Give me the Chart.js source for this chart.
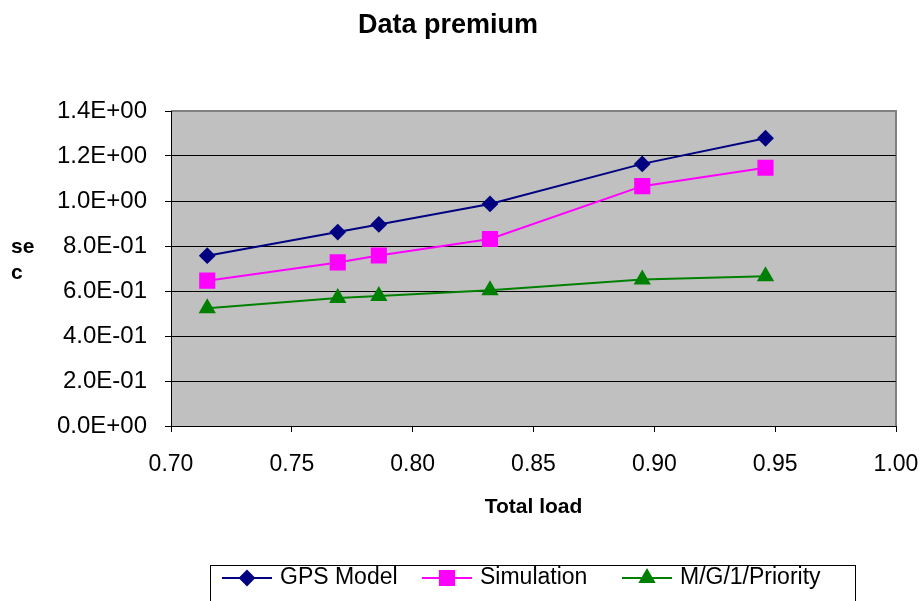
<!DOCTYPE html>
<html>
<head>
<meta charset="utf-8">
<script src="https://cdn.jsdelivr.net/npm/chart.js@4/dist/chart.umd.min.js"></script>
<style>
  html, body { margin: 0; padding: 0; background: #ffffff; }
  #wrap { width: 924px; height: 601px; }
</style>
</head>
<body>
<div id="wrap"><canvas id="premiumChart" width="924" height="601"></canvas></div>
<script>
const totalLoad  = [0.715, 0.769, 0.786, 0.832, 0.895, 0.946];
const gpsModel   = [0.757, 0.862, 0.896, 0.987, 1.165, 1.279];
const simulation = [0.646, 0.727, 0.758, 0.831, 1.066, 1.148];
const mg1Priority = [0.523, 0.569, 0.578, 0.603, 0.651, 0.666];
const seriesNames = ['GPS Model', 'Simulation', 'M/G/1/Priority'];

const colorNavy    = '#000080';
const colorMagenta = '#ff00ff';
const colorGreen   = '#008000';
const colorPlotBg  = '#c0c0c0';
const colorBorder  = '#808080';
const fontFamily   = '"Liberation Sans", Arial, sans-serif';

const toPoints = (ys) => ys.map((y, i) => ({ x: totalLoad[i], y: y }));
const sciLabel = (v) => Number(v).toExponential(1).toUpperCase().replace(/E([+-])(\d)$/, 'E$10$2');

const plotBackground = {
  id: 'plotBackground',
  beforeDraw(chart) {
    const { ctx, chartArea: a } = chart;
    ctx.save();
    ctx.fillStyle = colorPlotBg;
    ctx.fillRect(a.left, a.top, a.right - a.left, a.bottom - a.top);
    ctx.strokeStyle = colorBorder;
    ctx.lineWidth = 2;
    ctx.beginPath();
    ctx.moveTo(a.left, a.top);
    ctx.lineTo(a.right, a.top);
    ctx.lineTo(a.right, a.bottom);
    ctx.stroke();
    ctx.restore();
  }
};

const sideTitleAndLegend = {
  id: 'sideTitleAndLegend',
  afterDraw(chart) {
    const ctx = chart.ctx;
    ctx.save();
    // y axis title, broken over two lines
    ctx.fillStyle = '#000';
    ctx.font = 'bold 21px ' + fontFamily;
    ctx.textAlign = 'left';
    ctx.textBaseline = 'middle';
    ctx.fillText('se', 11, 247);
    ctx.fillText('c', 11, 273);

    // legend box
    ctx.strokeStyle = '#000';
    ctx.lineWidth = 1;
    ctx.strokeRect(210.5, 565.5, 645, 50);

    const lineStarts = [222, 422, 622];
    const legendY = 578;
    chart.data.datasets.forEach((ds, i) => {
      const x0 = lineStarts[i];
      ctx.strokeStyle = ds.borderColor;
      ctx.lineWidth = 2;
      ctx.beginPath();
      ctx.moveTo(x0, legendY);
      ctx.lineTo(x0 + 50, legendY);
      ctx.stroke();
      ctx.fillStyle = ds.backgroundColor;
      ctx.strokeStyle = ds.borderColor;
      Chart.helpers.drawPoint(ctx, {
        pointStyle: ds.pointStyle,
        radius: ds.pointRadius,
        rotation: 0,
        borderWidth: 1
      }, x0 + 25, legendY);
      ctx.fillStyle = '#000';
      ctx.font = '23px ' + fontFamily;
      ctx.textAlign = 'left';
      ctx.textBaseline = 'middle';
      ctx.fillText(ds.label, x0 + 58, legendY);
    });
    ctx.restore();
  }
};

const canvasPremium = document.getElementById('premiumChart');
new Chart(canvasPremium, {
  type: 'line',
  data: {
    datasets: [{
      label: seriesNames[0],
      data: toPoints(gpsModel),
      borderColor: colorNavy,
      backgroundColor: colorNavy,
      borderWidth: 2,
      pointStyle: 'rectRot',
      pointRadius: 7,
      pointHoverRadius: 7,
      tension: 0
    }, {
      label: seriesNames[1],
      data: toPoints(simulation),
      borderColor: colorMagenta,
      backgroundColor: colorMagenta,
      borderWidth: 2,
      pointStyle: 'rect',
      pointRadius: 10,
      pointHoverRadius: 10,
      tension: 0
    }, {
      label: seriesNames[2],
      data: toPoints(mg1Priority),
      borderColor: colorGreen,
      backgroundColor: colorGreen,
      borderWidth: 2,
      pointStyle: 'triangle',
      pointRadius: 8,
      pointHoverRadius: 8,
      tension: 0
    }]
  },
  options: {
    responsive: false,
    animation: false,
    layout: { padding: { left: 0, right: 28, top: 0, bottom: 65 } },
    plugins: {
      legend: { display: false },
      tooltip: { enabled: false },
      title: {
        display: true,
        text: 'Data premium',
        color: '#000',
        font: { family: fontFamily, size: 27, weight: 'bold', lineHeight: 1.2 },
        padding: { top: 9, bottom: 69.6 }
      }
    },
    scales: {
      x: {
        type: 'linear',
        min: 0.70,
        max: 1.00,
        afterFit: (scale) => {
          scale.height = 110;
          scale.paddingLeft = 0;
          scale.paddingRight = 0;
        },
        ticks: {
          stepSize: 0.05,
          color: '#000',
          padding: 19,
          font: { family: fontFamily, size: 23 },
          callback: (v) => Number(v).toFixed(2)
        },
        grid: { drawOnChartArea: false, drawTicks: true, tickLength: 6, color: '#000' },
        border: { color: '#000', width: 1 },
        title: {
          display: true,
          text: 'Total load',
          color: '#000',
          font: { family: fontFamily, size: 21, weight: 'bold' },
          padding: { top: 10, bottom: 16 }
        }
      },
      y: {
        min: 0,
        max: 1.4,
        afterFit: (scale) => { scale.width = 171; },
        ticks: {
          stepSize: 0.2,
          color: '#000',
          padding: 18,
          font: { family: fontFamily, size: 24 },
          callback: (v) => sciLabel(v)
        },
        grid: {
          tickLength: 6,
          tickColor: '#000',
          lineWidth: 1,
          color: (c) => (c.tick && c.tick.value > 1.39 ? 'rgba(0,0,0,0)' : '#000')
        },
        border: { color: '#000', width: 1 }
      }
    }
  },
  plugins: [plotBackground, sideTitleAndLegend]
});
</script>
</body>
</html>
